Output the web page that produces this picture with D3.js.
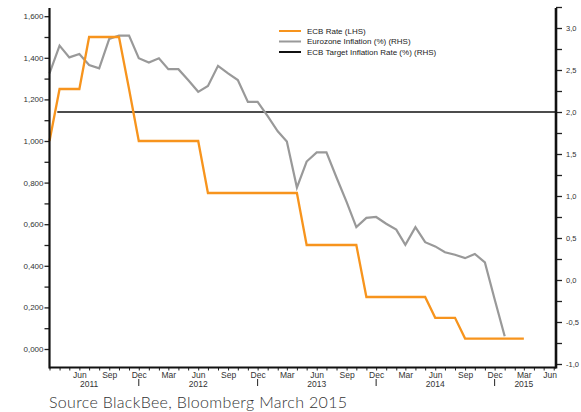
<!DOCTYPE html>
<html>
<head>
<meta charset="utf-8">
<script src="https://cdn.jsdelivr.net/npm/d3@7"></script>
<style>
  body { margin: 0; background: #fff; }
  text { font-family: "Liberation Sans", Arial, sans-serif; }
</style>
</head>
<body>
<div id="chart"></div>
<script>
// monthly data, first month is March 2011
var firstMonth = new Date(2011, 2, 1);

// ECB main refinancing rate (LHS), Mar 2011 - Mar 2015
var ecbRate = [1.0, 1.25, 1.25, 1.25, 1.5, 1.5, 1.5, 1.5, 1.25,
  1.0, 1.0, 1.0, 1.0, 1.0, 1.0, 1.0,
  0.75, 0.75, 0.75, 0.75, 0.75, 0.75, 0.75, 0.75, 0.75, 0.75,
  0.5, 0.5, 0.5, 0.5, 0.5, 0.5,
  0.25, 0.25, 0.25, 0.25, 0.25, 0.25, 0.25,
  0.15, 0.15, 0.15,
  0.05, 0.05, 0.05, 0.05, 0.05, 0.05, 0.05];

// Eurozone inflation % (RHS), Mar 2011 - Jan 2015
var inflation = [2.46, 2.79, 2.65, 2.69, 2.56, 2.52, 2.87, 2.91, 2.91, 2.64,
  2.59, 2.64, 2.51, 2.51, 2.38, 2.24, 2.31, 2.55, 2.46, 2.38,
  2.12, 2.12, 1.95, 1.77, 1.65, 1.10, 1.41, 1.52, 1.52, 1.22,
  0.93, 0.63, 0.74, 0.75, 0.67, 0.60, 0.42, 0.63, 0.45, 0.40,
  0.33, 0.30, 0.26, 0.31, 0.21, -0.23, -0.67];

// ECB target inflation (RHS)
var targetRate = 2.0;

var leftTicks = [0, 0.2, 0.4, 0.6, 0.8, 1.0, 1.2, 1.4, 1.6];
var rightTicks = [-1.0, -0.5, 0.0, 0.5, 1.0, 1.5, 2.0, 2.5, 3.0];
var yearLabels = ["2011", "2012", "2013", "2014", "2015"];

var legendItems = [
  {label: "ECB Rate  (LHS)", color: "#F7941D"},
  {label: "Eurozone Inflation (%) (RHS)", color: "#999999"},
  {label: "ECB Target Inflation Rate (%) (RHS)", color: "#111111"}
];

var width = 581, height = 412;
var plotLeft = 49.5, plotRight = 556, plotTop = 8, plotBottom = 367.5;

var svg = d3.select("#chart")
  .append("svg")
    .attr("width", width)
    .attr("height", height);

var monthDate = function(i) { return d3.timeMonth.offset(firstMonth, i); };

var x = d3.scaleTime()
  .domain([firstMonth, new Date(2015, 5, 8)])
  .range([plotLeft, plotRight]);

var yLeft = d3.scaleLinear()
  .domain([0, 1.6])
  .range([349, 16.2]);

var yRight = d3.scaleLinear()
  .domain([-1, 3.25])
  .range([364, 7]);

var fmtLeft = function(d) { return d3.format(".3f")(d).replace(".", ","); };
var fmtRight = function(d) { return d3.format(".1f")(d).replace(".", ",").replace("−", "-"); };

// Left axis
var gl = svg.append("g")
  .attr("transform", "translate(" + plotLeft + ",0)")
  .call(d3.axisLeft(yLeft)
    .tickValues(d3.range(0, 1.61, 0.1))
    .tickSize(5)
    .tickPadding(1)
    .tickFormat(function(d) {
      var hit = leftTicks.find(function(t) { return Math.abs(t - d) < 1e-6; });
      return hit === undefined ? "" : fmtLeft(hit);
    }));
gl.select(".domain").remove();
gl.selectAll(".tick line").attr("stroke", "#222").attr("stroke-width", 1.3);
gl.selectAll(".tick text").attr("fill", "#333").style("font-size", "8px");

// Right axis
var gr = svg.append("g")
  .attr("transform", "translate(" + plotRight + ",0)")
  .call(d3.axisRight(yRight)
    .tickValues(d3.range(-1, 3.26, 0.25))
    .tickSize(6)
    .tickPadding(4)
    .tickFormat(function(d) {
      var hit = rightTicks.find(function(t) { return Math.abs(t - d) < 1e-6; });
      return hit === undefined ? "" : fmtRight(hit);
    }));
gr.select(".domain").remove();
gr.selectAll(".tick line").attr("stroke", "#222").attr("stroke-width", 1.3);
gr.selectAll(".tick text").attr("fill", "#333").style("font-size", "7.5px");

// Bottom axis
var lastMonth = new Date(2015, 5, 1);
var gb = svg.append("g")
  .attr("transform", "translate(0," + plotBottom + ")")
  .call(d3.axisBottom(x)
    .ticks(d3.timeMonth.every(1))
    .tickSize(3)
    .tickPadding(1)
    .tickFormat(function(d) {
      if (+d === +firstMonth) return "";
      return d.getMonth() % 3 === 2 ? d3.timeFormat("%b")(d) : "";
    }));
gb.select(".domain").remove();
gb.selectAll(".tick line").attr("stroke", "#222").attr("stroke-width", 1);
gb.selectAll(".tick text")
  .attr("fill", "#333")
  .style("font-size", "8.5px")
  .attr("dx", function(d) { return +d === +lastMonth ? -4 : 0; });

// year labels: under June, first one nudged right, last one under March
var yearDate = function(y) {
  if (y === "2011") return new Date(2011, 6, 1);
  if (y === "2015") return new Date(2015, 2, 1);
  return new Date(+y, 5, 1);
};
svg.append("g")
  .selectAll("text")
  .data(yearLabels)
  .enter()
  .append("text")
    .attr("x", function(d) { return x(yearDate(d)); })
    .attr("y", 387)
    .attr("text-anchor", "middle")
    .attr("fill", "#333")
    .style("font-size", "8.5px")
    .text(function(d) { return d; });

// separators under December
svg.append("g")
  .selectAll("line")
  .data(yearLabels.slice(0, 4))
  .enter()
  .append("line")
    .attr("x1", function(d) { return x(new Date(+d, 11, 1)); })
    .attr("x2", function(d) { return x(new Date(+d, 11, 1)); })
    .attr("y1", 379)
    .attr("y2", 386)
    .attr("stroke", "#222")
    .attr("stroke-width", 1);

// target line
svg.append("line")
  .attr("x1", x(new Date(2011, 2, 25)))
  .attr("x2", plotRight)
  .attr("y1", yRight(targetRate))
  .attr("y2", yRight(targetRate))
  .attr("stroke", "#111")
  .attr("stroke-width", 1.3);

// inflation line
svg.append("path")
  .datum(inflation)
  .attr("fill", "none")
  .attr("stroke", "#999999")
  .attr("stroke-width", 2.2)
  .attr("d", d3.line()
    .x(function(d, i) { return x(monthDate(i)); })
    .y(function(d) { return yRight(d); }));

// ECB rate line
svg.append("path")
  .datum(ecbRate)
  .attr("fill", "none")
  .attr("stroke", "#F7941D")
  .attr("stroke-width", 2.3)
  .attr("d", d3.line()
    .x(function(d, i) { return x(monthDate(i)); })
    .y(function(d) { return yLeft(d); }));

// axis lines
svg.append("line")
  .attr("x1", plotLeft).attr("x2", plotLeft)
  .attr("y1", plotTop).attr("y2", plotBottom + 1)
  .attr("stroke", "#111").attr("stroke-width", 2.2);
svg.append("line")
  .attr("x1", plotRight).attr("x2", plotRight)
  .attr("y1", plotTop).attr("y2", plotBottom + 1)
  .attr("stroke", "#111").attr("stroke-width", 2.6);
svg.append("line")
  .attr("x1", plotLeft).attr("x2", plotRight)
  .attr("y1", plotBottom).attr("y2", plotBottom)
  .attr("stroke", "#111").attr("stroke-width", 2);

// legend
var legend = svg.append("g")
  .attr("transform", "translate(279,31)");
legend.selectAll("line")
  .data(legendItems)
  .enter()
  .append("line")
    .attr("x1", 0).attr("x2", 22)
    .attr("y1", function(d, i) { return i * 10.5; })
    .attr("y2", function(d, i) { return i * 10.5; })
    .attr("stroke", function(d) { return d.color; })
    .attr("stroke-width", 2);
legend.selectAll("text")
  .data(legendItems)
  .enter()
  .append("text")
    .attr("x", 28)
    .attr("y", function(d, i) { return i * 10.5 + 2.8; })
    .attr("fill", "#222")
    .style("font-size", "8px")
    .text(function(d) { return d.label; });

// source note
svg.append("text")
  .attr("x", 49)
  .attr("y", 408)
  .attr("fill", "#333")
  .style("font-family", "Lato, 'Open Sans', sans-serif")
  .style("font-weight", 300)
  .style("font-size", "16px")
  .attr("textLength", 298)
  .text("Source BlackBee, Bloomberg March 2015");
</script>
</body>
</html>
